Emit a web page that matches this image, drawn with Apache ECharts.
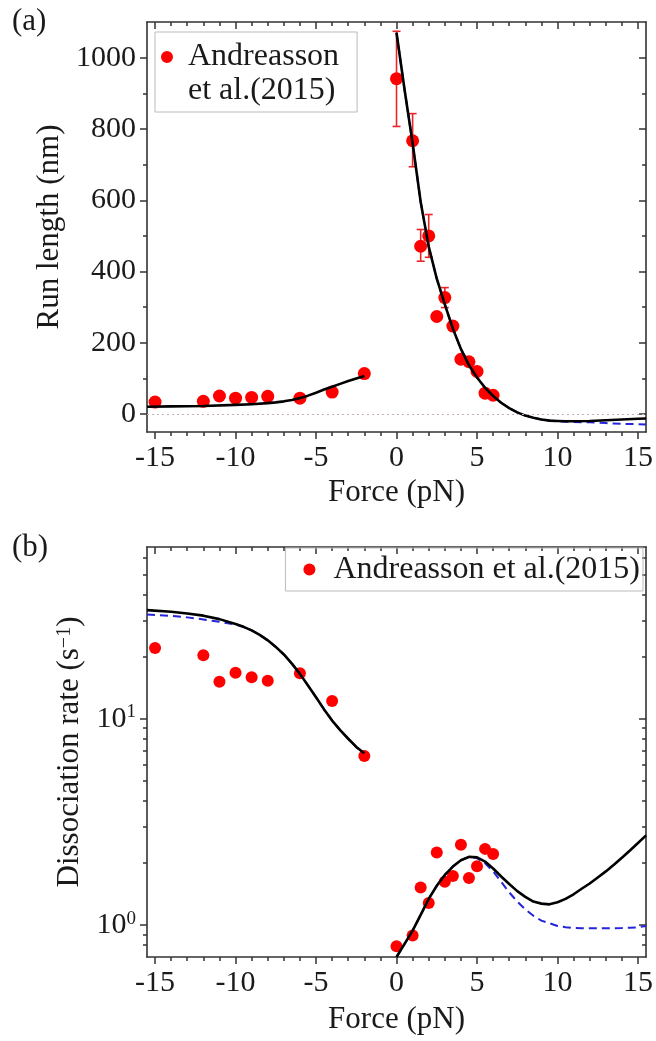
<!DOCTYPE html>
<html><head><meta charset="utf-8">
<script src="https://cdn.jsdelivr.net/npm/echarts@6/dist/echarts.min.js"></script>
<style>html,body{margin:0;padding:0;background:#fff}#c{width:656px;height:1041px}</style>
</head><body><div id="c"></div>
<script>
// ---------------- Data ----------------
const SERIES_NAME = 'Andreasson et al.(2015)';

// Panel (a): run length vs force
const forceA     = [-15, -12, -11, -10, -9, -8, -6, -4, -2, 0, 1, 1.5, 2, 2.5, 3, 3.5, 4, 4.5, 5, 5.5, 6];
const runLengthA = [34, 36, 51, 45, 47, 50, 45, 62, 114, 941, 767, 471, 500, 274, 327, 247, 154, 147, 120, 59, 53];
const errForceA  = [0, 1, 1.5, 2, 3];
const errLowA    = [807, 694, 429, 440, 299];
const errHighA   = [1074, 843, 518, 560, 355];

const fitNegForceA = [-15.5, -14, -12, -10, -9, -8, -7.5, -7, -6.5, -6, -5.5, -5, -4.5, -4, -3.5, -3, -2.5, -2];
const fitNegRunA   = [21, 22, 23, 26, 28, 31, 33, 36, 40, 45, 52, 60, 69, 77, 85, 93, 100, 107];
const fitPosForceA = [0, 0.5, 1, 1.5, 2, 2.5, 3, 3.5, 4, 4.5, 5, 5.5, 6, 6.5, 7, 7.5, 8, 8.5, 9, 9.5, 10, 10.5, 11, 12, 13, 14, 15, 15.5];
const fitPosRunA   = [1070, 910, 760, 595, 470, 380, 308, 240, 183, 137, 103, 74, 51, 32, 17, 5, -4, -10, -15, -18, -19, -20, -20, -19, -17, -15, -13, -12];
const dashPosRunA  = [1070, 910, 760, 595, 470, 380, 308, 240, 183, 137, 103, 74, 51, 32, 17, 5, -4, -10, -15, -18, -20, -21, -22, -23, -25, -27, -28, -29];

// Panel (b): dissociation rate vs force
const forceB = [-15, -12, -11, -10, -9, -8, -6, -4, -2, 0, 1, 1.5, 2, 2.5, 3, 3.5, 4, 4.5, 5, 5.5, 6];
const rateB  = [22.0, 20.3, 15.1, 16.7, 15.9, 15.3, 16.6, 12.2, 6.6, 0.79, 0.89, 1.52, 1.28, 2.25, 1.62, 1.73, 2.45, 1.69, 1.93, 2.34, 2.21];

const fitNegForceB  = [-15.5, -14, -13, -12, -11, -10, -9.5, -9, -8.5, -8, -7.5, -7, -6.5, -6, -5.5, -5, -4.5, -4, -3.5, -3, -2.5, -2];
const fitNegRateB   = [33.6, 33.0, 32.4, 31.6, 30.4, 28.8, 27.9, 26.8, 25.5, 24.0, 22.3, 20.5, 18.5, 16.5, 14.5, 12.7, 11.1, 9.8, 8.8, 8.0, 7.3, 6.8];
const dashNegRateB  = [32.0, 31.5, 31.0, 30.3, 29.5, 28.6, 27.8, 26.8, 25.5, 24.0, 22.3, 20.5, 18.5, 16.5, 14.5, 12.7, 11.1, 9.8, 8.8, 8.0, 7.3, 6.8];
const fitPosForceB  = [0, 0.5, 1, 1.5, 2, 2.5, 3, 3.5, 4, 4.5, 5, 5.5, 6, 6.5, 7, 7.5, 8, 8.5, 9, 9.5, 10, 10.5, 11, 11.5, 12, 12.5, 13, 13.5, 14, 14.5, 15, 15.5];
const fitPosRateB   = [0.70, 0.81, 0.94, 1.12, 1.34, 1.55, 1.75, 1.92, 2.06, 2.14, 2.13, 2.03, 1.88, 1.72, 1.58, 1.46, 1.37, 1.30, 1.27, 1.26, 1.29, 1.34, 1.41, 1.50, 1.59, 1.70, 1.82, 1.96, 2.12, 2.30, 2.50, 2.72];
const dashPosRateB  = [0.70, 0.81, 0.94, 1.12, 1.34, 1.55, 1.75, 1.92, 2.06, 2.14, 2.11, 1.99, 1.82, 1.62, 1.44, 1.30, 1.19, 1.11, 1.05, 1.02, 0.99, 0.975, 0.968, 0.966, 0.965, 0.965, 0.965, 0.966, 0.967, 0.970, 0.975, 0.99];

// Tick values
const xMajorTicks  = [-15, -10, -5, 0, 5, 10, 15];
const xMinorTicks  = [-14, -13, -12, -11, -9, -8, -7, -6, -4, -3, -2, -1, 1, 2, 3, 4, 6, 7, 8, 9, 11, 12, 13, 14];
const yMajorTicksA = [0, 200, 400, 600, 800, 1000];
const yMinorTicksA = [100, 300, 500, 700, 900];
const yDecadesB    = [1, 10];
const yMinorTicksB = [0.8, 0.9, 2, 3, 4, 5, 6, 7, 8, 9, 20, 30, 40, 50, 60];

// ---------------- Chart ----------------
const FONT = "'Liberation Serif', 'Times New Roman', serif";
const AX = '#333';
const TXT = '#1a1a1a';
const RED = '#ff0000';
const ERR = '#e8262a';
const BLUE = '#2424d8';
const zip = (a, b) => a.map((v, i) => [v, b[i]]);

const X_MIN = -15.5, X_MAX = 15.5;
const A_MIN = -50, A_MAX = 1100;
const B_MIN = 0.7, B_MAX = 68;
const lg = Math.log10;
const TICK_FS = 30, NAME_FS = 31;

function xAxes(gridIndex, name, nameGap) {
  const base = { type: 'value', gridIndex, min: X_MIN, max: X_MAX, splitLine: { show: false } };
  const tickLine = { color: AX, width: 1.5 };
  return [
    Object.assign({}, base, {
      position: 'bottom',
      axisLine: { onZero: false, lineStyle: { color: AX, width: 1.6 } },
      axisTick: { customValues: xMajorTicks, length: 7, lineStyle: tickLine },
      axisLabel: { customValues: xMajorTicks, fontFamily: FONT, fontSize: TICK_FS, color: TXT, margin: 11, formatter: v => String(v) },
      name, nameLocation: 'middle', nameGap,
      nameTextStyle: { fontFamily: FONT, fontSize: NAME_FS, color: TXT }
    }),
    Object.assign({}, base, {
      position: 'bottom',
      axisLine: { show: false, onZero: false },
      axisTick: { customValues: xMinorTicks, length: 4, lineStyle: tickLine },
      axisLabel: { show: false }
    }),
    Object.assign({}, base, {
      position: 'top',
      axisLine: { onZero: false, lineStyle: { color: AX, width: 1.6 } },
      axisTick: { inside: true, customValues: xMajorTicks, length: 7, lineStyle: tickLine },
      axisLabel: { show: false }
    }),
    Object.assign({}, base, {
      position: 'top',
      axisLine: { show: false, onZero: false },
      axisTick: { inside: true, customValues: xMinorTicks, length: 4, lineStyle: tickLine },
      axisLabel: { show: false }
    })
  ];
}

function yAxesSet(gridIndex, min, max, major, minor, labelOpts, name, nameGap, nameRich) {
  const base = { type: 'value', gridIndex, min, max, splitLine: { show: false } };
  const tickLine = { color: AX, width: 1.5 };
  return [
    Object.assign({}, base, {
      position: 'left',
      axisLine: { onZero: false, lineStyle: { color: AX, width: 1.6 } },
      axisTick: { customValues: major, length: 7, lineStyle: tickLine },
      axisLabel: Object.assign({ customValues: major, fontFamily: FONT, fontSize: TICK_FS, color: TXT, margin: 11, formatter: v => String(v) }, labelOpts),
      name, nameLocation: 'middle', nameGap,
      nameTextStyle: { fontFamily: FONT, fontSize: NAME_FS, color: TXT, rich: nameRich }
    }),
    Object.assign({}, base, {
      position: 'left',
      axisLine: { show: false, onZero: false },
      axisTick: { customValues: minor, length: 4, lineStyle: tickLine },
      axisLabel: { show: false }
    }),
    Object.assign({}, base, {
      position: 'right',
      axisLine: { onZero: false, lineStyle: { color: AX, width: 1.6 } },
      axisTick: { inside: true, customValues: major, length: 7, lineStyle: tickLine },
      axisLabel: { show: false }
    }),
    Object.assign({}, base, {
      position: 'right',
      axisLine: { show: false, onZero: false },
      axisTick: { inside: true, customValues: minor, length: 4, lineStyle: tickLine },
      axisLabel: { show: false }
    })
  ];
}

// y axes: 0-3 panel (a); 4 = log data axis (b); 5-8 = log-space tick axes (b)
const yAxesA = yAxesSet(0, A_MIN, A_MAX, yMajorTicksA, yMinorTicksA, {}, 'Run length (nm)', 80, {});
const yLogB = { type: 'log', logBase: 10, gridIndex: 1, min: B_MIN, max: B_MAX, show: false };
const yAxesB = yAxesSet(1, lg(B_MIN), lg(B_MAX), yDecadesB.map(lg), yMinorTicksB.map(lg), {
  formatter: v => '{b|10}{s|' + Math.round(v) + '}',
  rich: {
    b: { fontFamily: FONT, fontSize: TICK_FS, color: TXT, lineHeight: 32 },
    s: { fontFamily: FONT, fontSize: 19, color: TXT, lineHeight: 19, verticalAlign: 'top' }
  }
}, 'Dissociation rate (s{s|−1})', 56, {
  s: { fontFamily: FONT, fontSize: 20, color: TXT, lineHeight: 20, verticalAlign: 'top' }
});

// two-line legend icon: circle at the top of a tall invisible box
const ICON_A = 'path://M5,0A5,5,0,1,1,5,10A5,5,0,1,1,5,0ZM0,38.33L0.01,38.33';

const lineBase = { type: 'line', symbol: 'none', smooth: false, silent: true, z: 4 };

const option = {
  animation: false,
  backgroundColor: '#fff',
  grid: [
    { left: 147, top: 22, width: 500, height: 410 },
    { left: 147, top: 547, width: 501, height: 410 }
  ],
  legend: [
    {
      left: 155, top: 32, orient: 'vertical', selectedMode: false,
      data: [{ name: SERIES_NAME, icon: ICON_A }],
      formatter: () => 'Andreasson\net al.(2015)',
      itemWidth: 32, itemHeight: 46,
      textStyle: { fontFamily: FONT, fontSize: 32, color: TXT, lineHeight: 34 },
      borderColor: '#bbb', borderWidth: 1, padding: [8, 18, 4, 6]
    },
    {
      right: 13, top: 548, selectedMode: false,
      data: [{ name: SERIES_NAME, icon: 'circle' }],
      itemWidth: 38, itemHeight: 12,
      textStyle: { fontFamily: FONT, fontSize: 32, color: TXT, lineHeight: 35 },
      borderColor: '#bbb', borderWidth: 1, padding: [4, 3, 4, 18]
    }
  ],
  xAxis: [].concat(xAxes(0, 'Force (pN)', 45), xAxes(1, 'Force (pN)', 47)),
  yAxis: [].concat(yAxesA, [yLogB], yAxesB),
  graphic: [
    { type: 'text', left: 12, top: 6, style: { text: '(a)', fontFamily: FONT, fontSize: 31, fill: TXT } },
    { type: 'text', left: 12, top: 532, style: { text: '(b)', fontFamily: FONT, fontSize: 31, fill: TXT } }
  ],
  series: [
    // ----- panel (a)
    {
      type: 'custom', name: 'err', xAxisIndex: 0, yAxisIndex: 0, silent: true, z: 2,
      data: errForceA.map((f, i) => [f, errLowA[i], errHighA[i]]),
      encode: { x: 0, y: [1, 2] },
      renderItem: (params, api) => {
        const f = api.value(0);
        const lo = api.coord([f, api.value(1)]);
        const hi = api.coord([f, api.value(2)]);
        const w = 4, st = { stroke: ERR, lineWidth: 1.6 };
        return { type: 'group', children: [
          { type: 'line', shape: { x1: lo[0], y1: lo[1], x2: hi[0], y2: hi[1] }, style: st },
          { type: 'line', shape: { x1: lo[0] - w, y1: lo[1], x2: lo[0] + w, y2: lo[1] }, style: st },
          { type: 'line', shape: { x1: hi[0] - w, y1: hi[1], x2: hi[0] + w, y2: hi[1] }, style: st }
        ] };
      }
    },
    {
      type: 'scatter', name: SERIES_NAME, xAxisIndex: 0, yAxisIndex: 0, z: 3,
      data: zip(forceA, runLengthA), symbolSize: 13, itemStyle: { color: RED, opacity: 1 }
    },
    Object.assign({}, lineBase, {
      name: 'dashA', xAxisIndex: 0, yAxisIndex: 0, z: 3,
      data: zip(fitPosForceA, dashPosRunA),
      lineStyle: { color: BLUE, width: 2, type: [8, 5] }
    }),
    Object.assign({}, lineBase, {
      name: 'fitNegA', xAxisIndex: 0, yAxisIndex: 0,
      data: zip(fitNegForceA, fitNegRunA),
      lineStyle: { color: '#000', width: 2.6, join: 'round' },
      markLine: {
        silent: true, symbol: 'none', label: { show: false },
        lineStyle: { color: '#c4b0b0', type: [2, 3], width: 1.2 },
        data: [{ yAxis: 0 }]
      }
    }),
    Object.assign({}, lineBase, {
      name: 'fitPosA', xAxisIndex: 0, yAxisIndex: 0,
      data: zip(fitPosForceA, fitPosRunA),
      lineStyle: { color: '#000', width: 2.6, join: 'round' }
    }),
    // ----- panel (b)
    {
      type: 'scatter', name: SERIES_NAME, xAxisIndex: 4, yAxisIndex: 4, z: 3,
      data: zip(forceB, rateB), symbolSize: 12, itemStyle: { color: RED, opacity: 1 }
    },
    Object.assign({}, lineBase, {
      name: 'dashNegB', xAxisIndex: 4, yAxisIndex: 4, z: 3,
      data: zip(fitNegForceB, dashNegRateB),
      lineStyle: { color: BLUE, width: 2, type: [8, 5] }
    }),
    Object.assign({}, lineBase, {
      name: 'dashPosB', xAxisIndex: 4, yAxisIndex: 4, z: 3,
      data: zip(fitPosForceB, dashPosRateB),
      lineStyle: { color: BLUE, width: 2, type: [8, 5] }
    }),
    Object.assign({}, lineBase, {
      name: 'fitNegB', xAxisIndex: 4, yAxisIndex: 4,
      data: zip(fitNegForceB, fitNegRateB),
      lineStyle: { color: '#000', width: 2.6, join: 'round' }
    }),
    Object.assign({}, lineBase, {
      name: 'fitPosB', xAxisIndex: 4, yAxisIndex: 4,
      data: zip(fitPosForceB, fitPosRateB),
      lineStyle: { color: '#000', width: 2.6, join: 'round' }
    })
  ]
};

const chart = echarts.init(document.getElementById('c'), null, { renderer: 'canvas' });
chart.setOption(option);
</script>
</body></html>
